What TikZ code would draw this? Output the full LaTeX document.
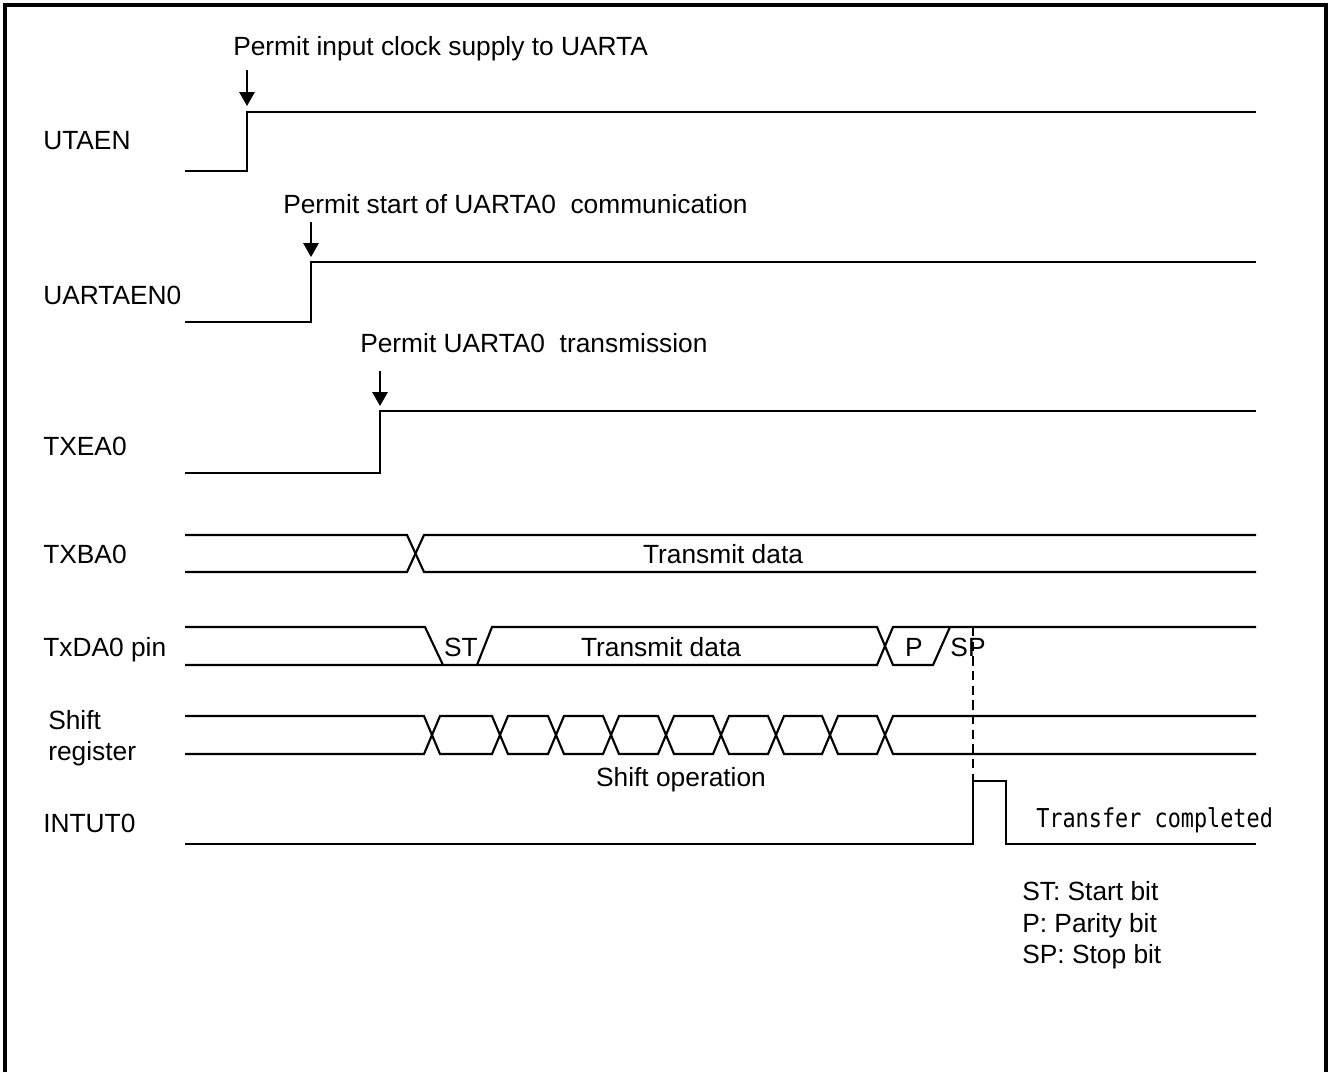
\documentclass[tikz,border=0pt]{standalone}
\usepackage{fontspec}
\setmainfont{Liberation Sans}
\newfontfamily\monofont{DejaVu Sans Mono}
\usetikzlibrary{arrows.meta}
\begin{document}
\begin{tikzpicture}[x=0.75pt,y=-0.75pt,
  wave/.style={line width=1.6pt, line join=miter},
  lbl/.style={anchor=base west, inner sep=0pt, font=\fontsize{19.75}{23}\selectfont},
  ctr/.style={anchor=base, inner sep=0pt, font=\fontsize{19.75}{23}\selectfont},
  pointer/.style={line width=1.6pt, -{Triangle[width=11.5pt,length=10.5pt]}},
  frame/.style={line width=3pt},
  guide/.style={line width=1.5pt, dash pattern=on 7pt off 4pt},
]
\useasboundingbox (0,0) rectangle (1328,1072);
\draw[frame] (5,1072) -- (5,5) -- (1326,5) -- (1326,1072);

% signal names
\node[lbl] (nUTAEN) at (43,149) {UTAEN};
\node[lbl] (nUARTAEN) at (43,304) {UARTAEN0};
\node[lbl] (nTXEA) at (43,455) {TXEA0};
\node[lbl] (nTXBA) at (43,563) {TXBA0};
\node[lbl] (nTXDA) at (43,656) {TxDA0 pin};
\node[lbl] (nShift) at (48,729) {Shift};
\node[lbl] (nReg) at (48,760) {register};
\node[lbl] (nINT) at (43,832) {INTUT0};

% UTAEN
\draw[wave] (185,171) -- (247,171) -- (247,112) -- (1256,112);
\node[lbl] (tUTAEN) at (233,55) {Permit input clock supply to UARTA};
\coordinate (aU) at (247,70);
\coordinate (eU) at (247,106);
\draw[pointer] (aU) -- (eU);

% UARTAEN0
\draw[wave] (185,322) -- (311,322) -- (311,262) -- (1256,262);
\node[lbl] (tUARTAEN) at (283,213) {Permit start of UARTA0~ communication};
\coordinate (aA) at (311,222);
\coordinate (eA) at (311,257);
\draw[pointer] (aA) -- (eA);

% TXEA0
\draw[wave] (185,473) -- (380,473) -- (380,411) -- (1256,411);
\node[lbl] (tTXEA) at (360,352) {Permit UARTA0~ transmission};
\coordinate (aT) at (380,371);
\coordinate (eT) at (380,406);
\draw[pointer] (aT) -- (eT);

% TXBA0
\draw[wave] (185,535) -- (407,535) -- (424,572) -- (1256,572);
\draw[wave] (185,572) -- (407,572) -- (424,535) -- (1256,535);
\node[ctr] (dTXBA) at (723,563) {Transmit data};

% TxDA0 pin
\draw[wave] (185,627) -- (425,627) -- (443,665);
\draw[wave] (185,665) -- (877,665) -- (893,627) -- (1256,627);
\draw[wave] (477,665) -- (492,627) -- (877,627) -- (893,665) -- (933,665) -- (950,627);
\node[ctr] (bST) at (461,656) {ST};
\node[ctr] (dTXDA) at (661,656) {Transmit data};
\node[ctr] (bP) at (914,656) {P};
\node[ctr] (bSP) at (968,656) {SP};

% Shift register
\draw[wave] (185,716) -- (424,716) -- (440,754) -- (492,754) -- (508,716) -- (548,716) -- (564,754) -- (603,754) -- (619,716) -- (658,716) -- (674,754) -- (713,754) -- (729,716) -- (768,716) -- (784,754) -- (822,754) -- (838,716) -- (877,716) -- (893,754) -- (1256,754);
\draw[wave] (185,754) -- (424,754) -- (440,716) -- (492,716) -- (508,754) -- (548,754) -- (564,716) -- (603,716) -- (619,754) -- (658,754) -- (674,716) -- (713,716) -- (729,754) -- (768,754) -- (784,716) -- (822,716) -- (838,754) -- (877,754) -- (893,716) -- (1256,716);
\node[ctr] (dShift) at (681,786) {Shift operation};

% INTUT0
\draw[wave] (185,844) -- (973,844) -- (973,781) -- (1006,781) -- (1006,844) -- (1256,844);
\coordinate (gTop) at (973,627);
\coordinate (gBot) at (973,781);
\draw[guide] (gTop) -- (gBot);
\node[anchor=base west, inner sep=0pt, font=\monofont\fontsize{19.5}{22}\selectfont] (tDone) at (1036,827) {\scalebox{0.84}[1]{Transfer completed}};

% legend
\node[lbl] (lST) at (1022,900) {ST: Start bit};
\node[lbl] (lP) at (1022,932) {P: Parity bit};
\node[lbl] (lSP) at (1022,963) {SP: Stop bit};
\end{tikzpicture}
\end{document}
